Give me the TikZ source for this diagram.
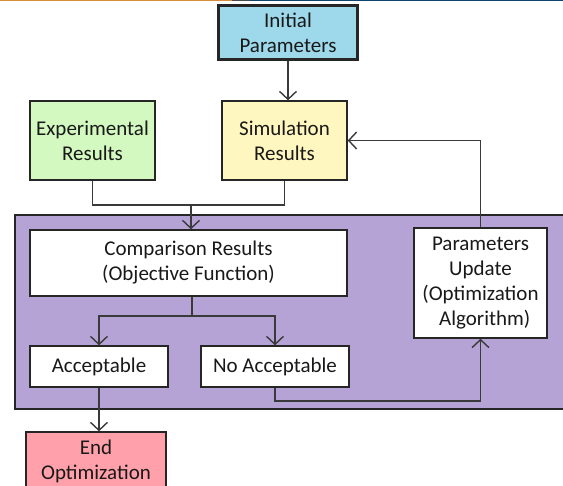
\documentclass[tikz,border=0pt]{standalone}
\usepackage{fontspec}
\setmainfont{Carlito}
\usetikzlibrary{arrows.meta,positioning,calc}

\definecolor{initblue}{HTML}{9DD9EA}
\definecolor{expgreen}{HTML}{D3F8C0}
\definecolor{simyellow}{HTML}{FFF7BF}
\definecolor{loopviolet}{HTML}{B4A3D4}
\definecolor{endpink}{HTML}{FFA0AB}
\definecolor{wire}{HTML}{3A3A3A}
\definecolor{barorange}{HTML}{D98F3A}
\definecolor{barblue}{HTML}{0F4470}

\begin{document}
\begin{tikzpicture}[
  x=1pt, y=-1pt,
  font=\fontsize{21}{25}\selectfont,
  box/.style={rectangle, draw=black!85, line width=1.4pt, inner sep=0pt,
              align=center, text=black!90},
  flow/.style={draw=wire, line width=1.4pt,
               -{Straight Barb[length=8pt, width=17pt, line width=1.4pt]}},
  wireline/.style={draw=wire, line width=1.4pt}
]
\useasboundingbox (0,0) rectangle (563,486);
% header strip
\fill[barorange] (0,0) rectangle (232,1.4);
\fill[black!70] (232,0) rectangle (250,1.4);
\fill[barblue] (250,0) rectangle (563,1.4);
% optimization loop area
\draw[fill=loopviolet, draw=black!85, line width=1.4pt] (15,215) rectangle (600,409);
% boxes
\node[box, fill=initblue, line width=3pt, minimum width=139pt, minimum height=54pt]
  (initpar) at (288,33) {Initial\\Parameters};
\node[box, fill=expgreen, minimum width=125pt, minimum height=79pt]
  (expres) at (92.5,140.5) {Experimental\\Results};
\node[box, fill=simyellow, minimum width=125pt, minimum height=79pt]
  (simres) at (284.5,140.5) {Simulation\\Results};
\node[box, fill=white, minimum width=317pt, minimum height=66pt]
  (comp) at (188.5,263) {Comparison Results\\(Objective Function)};
\node[box, fill=white, minimum width=133pt, minimum height=110pt]
  (paramup) at (480.5,283) {Parameters\\Update\\(Optimization\\\hspace*{0.4em}Algorithm)};
\node[box, fill=white, minimum width=138pt, minimum height=41pt]
  (accept) at (99,366.5) {Acceptable};
\node[box, fill=white, minimum width=148pt, minimum height=41pt]
  (noacc) at (275,366.5) {No Acceptable};
\node[box, fill=endpink, minimum width=140pt, minimum height=58pt]
  (endopt) at (96,461) {End\\Optimization};
% junctions
\coordinate (mrg) at (191,205);
\coordinate (split) at (192,316);
% connectors
\draw[flow] (initpar.south) -- (initpar.south |- simres.north);
\draw[wireline] (expres.south) |- (mrg) -| (simres.south);
\draw[flow] (mrg) -- (mrg |- comp.north);
\draw[wireline] (split |- comp.south) -- (split);
\draw[flow] (split) -| (accept.north);
\draw[flow] (split) -| (noacc.north);
\draw[flow] (noacc.south) -- ++(0,13.5) -| (paramup.south);
\draw[flow] (paramup.north) |- (simres.east);
\draw[flow] (accept.south) -- (accept.south |- endopt.north);
\end{tikzpicture}
\end{document}
